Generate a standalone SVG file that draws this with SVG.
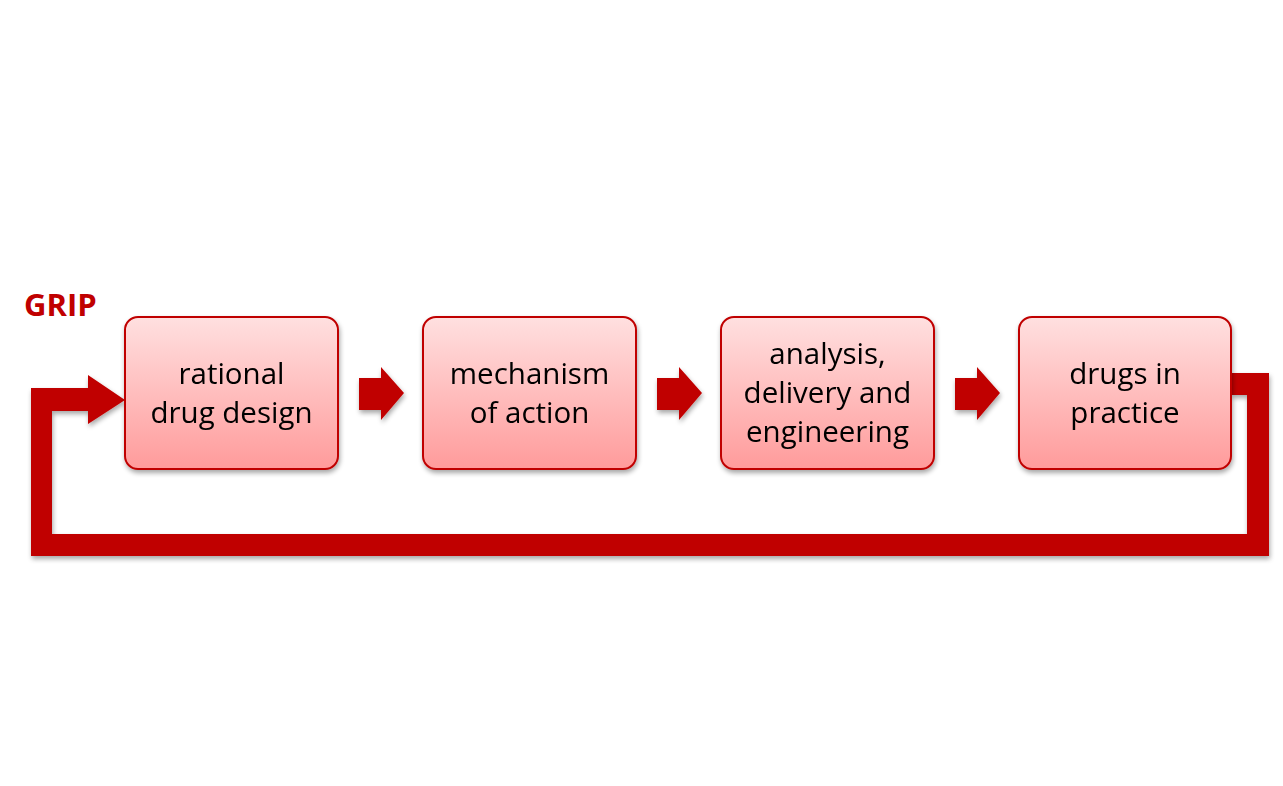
<svg xmlns="http://www.w3.org/2000/svg" width="1283" height="786" viewBox="0 0 1283 786">
<defs>
<linearGradient id="g" x1="0" y1="0" x2="0" y2="1">
<stop offset="0" stop-color="#FFE0E0"/>
<stop offset="1" stop-color="#FF9B9B"/>
</linearGradient>
<filter id="sh" x="-10%" y="-10%" width="130%" height="130%">
<feGaussianBlur in="SourceAlpha" stdDeviation="2.5"/>
<feOffset dx="1" dy="3" result="b"/>
<feComponentTransfer><feFuncA type="linear" slope="0.35"/></feComponentTransfer>
<feMerge><feMergeNode/><feMergeNode in="SourceGraphic"/></feMerge>
</filter>
</defs>
<style>
.box{fill:url(#g);stroke:#C00000;stroke-width:2}
.lbl{font-family:"Open Sans","Liberation Sans",sans-serif;font-size:29.5px;fill:#000;text-anchor:middle}
.arr{fill:#C00000}
</style>
<rect width="1283" height="786" fill="#fff"/>
<text x="24" y="316" font-family="'Open Sans','Liberation Sans',sans-serif" font-weight="bold" font-size="31" fill="#C00000">GRIP</text>
<g id="connectors" filter="url(#sh)">
<polygon class="arr" points="1231,373 1269,373 1269,556 31,556 31,388 88,388 88,375 125,400 88,424 88,411 52,411 52,534 1247,534 1247,395 1231,395"/>
<polygon class="arr" points="359,378 381,378 381,367 404,393 381,420 381,410 359,410"/>
<polygon class="arr" points="657,378 679,378 679,367 702,393 679,420 679,410 657,410"/>
<polygon class="arr" points="955,378 977,378 977,367 1000,393 977,420 977,410 955,410"/>
</g>
<g id="n1" filter="url(#sh)">
<rect class="box" x="125" y="317" width="213" height="152" rx="13"/>
<text class="lbl" x="231.5" y="384">rational</text>
<text class="lbl" x="231.5" y="423">drug design</text>
</g>
<g id="n2" filter="url(#sh)">
<rect class="box" x="423" y="317" width="213" height="152" rx="13"/>
<text class="lbl" x="529.5" y="384">mechanism</text>
<text class="lbl" x="529.5" y="423">of action</text>
</g>
<g id="n3" filter="url(#sh)">
<rect class="box" x="721" y="317" width="213" height="152" rx="13"/>
<text class="lbl" x="827.5" y="364">analysis,</text>
<text class="lbl" x="827.5" y="403">delivery and</text>
<text class="lbl" x="827.5" y="442">engineering</text>
</g>
<g id="n4" filter="url(#sh)">
<rect class="box" x="1019" y="317" width="212" height="152" rx="13"/>
<text class="lbl" x="1125" y="384">drugs in</text>
<text class="lbl" x="1125" y="423">practice</text>
</g>
</svg>
